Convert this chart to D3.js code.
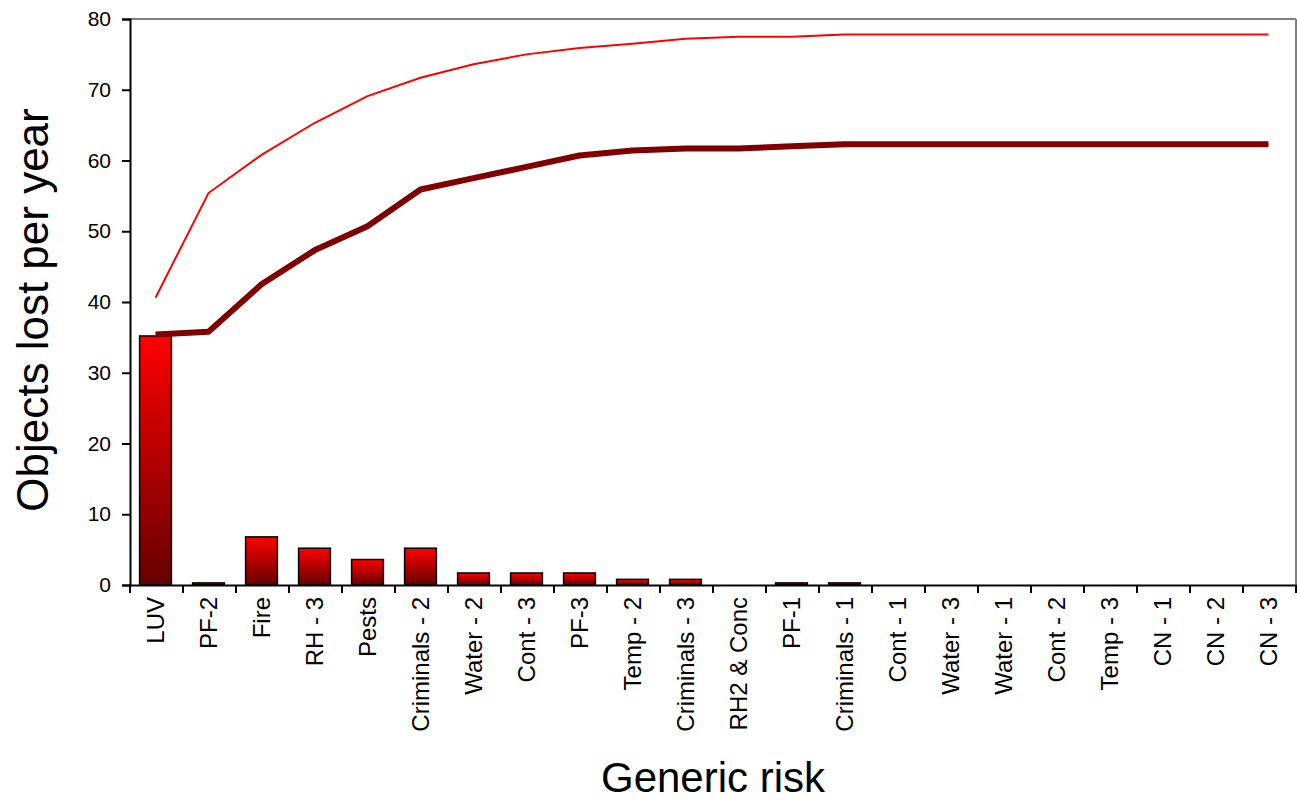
<!DOCTYPE html>
<html>
<head>
<meta charset="utf-8">
<script src="https://cdn.jsdelivr.net/npm/d3@7"></script>
<style>
  html, body { margin: 0; padding: 0; background: #fff; }
  svg { display: block; font-family: Arial, "Liberation Sans", Helvetica, sans-serif; }
</style>
</head>
<body>
<svg id="chart" width="1297" height="800"></svg>
<script>
const categories = ["LUV","PF-2","Fire","RH - 3","Pests","Criminals - 2","Water - 2","Cont - 3","PF-3","Temp - 2","Criminals - 3","RH2 & Conc","PF-1","Criminals - 1","Cont - 1","Water - 3","Water - 1","Cont - 2","Temp - 3","CN - 1","CN - 2","CN - 3"];
const lossPerYear = [35.2,0.3,6.8,5.2,3.6,5.2,1.7,1.7,1.7,0.8,0.8,0,0.3,0.3,0,0,0,0,0,0,0,0];
const cumulativeLower = [35.4,35.8,42.5,47.3,50.7,55.9,57.5,59.1,60.7,61.4,61.7,61.7,62.0,62.3,62.3,62.3,62.3,62.3,62.3,62.3,62.3,62.3];
const cumulativeUpper = [40.6,55.4,60.8,65.3,69.1,71.7,73.6,75.0,75.9,76.5,77.2,77.5,77.5,77.8,77.8,77.8,77.8,77.8,77.8,77.8,77.8,77.8];
const yTicks = [0,10,20,30,40,50,60,70,80];

const svg = d3.select("#chart");
const m = {left: 130, top: 19, right: 1296, bottom: 585};

const x = d3.scaleBand().domain(categories).range([m.left, m.right]).padding(0);
const y = d3.scaleLinear().domain([0, 80]).range([m.bottom, m.top]);

// gradient for bars
const defs = svg.append("defs");
const grad = defs.append("linearGradient").attr("id", "barGrad")
  .attr("x1", 0).attr("y1", 0).attr("x2", 0).attr("y2", 1);
grad.append("stop").attr("offset", "0%").attr("stop-color", "#ff0000");
grad.append("stop").attr("offset", "100%").attr("stop-color", "#660000");

// plot frame (top/right grey)
svg.append("line").attr("x1", m.left).attr("x2", m.right).attr("y1", m.top).attr("y2", m.top)
  .attr("stroke", "#808080").attr("stroke-width", 2);
svg.append("line").attr("x1", m.right).attr("x2", m.right).attr("y1", m.top).attr("y2", m.bottom)
  .attr("stroke", "#808080").attr("stroke-width", 2);

// bars
const bw = x.bandwidth() * 0.6;
svg.append("g").selectAll("rect").data(categories.map((c, i) => ({c, v: lossPerYear[i]})).filter(d => d.v > 0))
  .join("rect")
  .attr("x", d => x(d.c) + x.bandwidth() / 2 - bw / 2 - 1)
  .attr("width", bw)
  .attr("y", d => y(d.v))
  .attr("height", d => y(0) - y(d.v))
  .attr("fill", "url(#barGrad)")
  .attr("stroke", "#000").attr("stroke-width", 1.5);

// lines
const line = d3.line().x((d, i) => x(categories[i]) + x.bandwidth() / 2 - 1).y(d => y(d));
svg.append("path").datum(cumulativeUpper).attr("d", line)
  .attr("fill", "none").attr("stroke", "#ff0000").attr("stroke-width", 2);
svg.append("path").datum(cumulativeLower).attr("d", line)
  .attr("fill", "none").attr("stroke", "#800000").attr("stroke-width", 6).attr("stroke-linejoin", "round");

// y axis
const yAxis = svg.append("g").attr("transform", `translate(${m.left},0)`)
  .call(d3.axisLeft(y).tickValues(yTicks).tickSize(8).tickPadding(11).tickFormat(d3.format("d")));
yAxis.select(".domain").attr("stroke", "#000").attr("stroke-width", 2);
yAxis.selectAll(".tick line").attr("stroke", "#000").attr("stroke-width", 2);
yAxis.selectAll(".tick text").attr("font-size", 21).attr("fill", "#000")
  .attr("font-family", "Arial, 'Liberation Sans', sans-serif");

// x axis
const xAxis = svg.append("g").attr("transform", `translate(0,${m.bottom})`)
  .call(d3.axisBottom(x).tickSize(0).tickPadding(0));
xAxis.select(".domain").attr("stroke", "#000").attr("stroke-width", 2);
xAxis.selectAll(".tick text")
  .attr("font-size", 24).attr("fill", "#000")
  .attr("font-family", "Arial, 'Liberation Sans', sans-serif")
  .attr("text-anchor", "end")
  .attr("transform", "translate(-1,12) rotate(-90)")
  .attr("x", 0).attr("y", 0).attr("dy", "0.35em");
// boundary ticks
const bounds = categories.map(c => x(c)).concat([m.right]);
svg.append("g").selectAll("line").data(bounds).join("line")
  .attr("x1", d => d).attr("x2", d => d).attr("y1", m.bottom).attr("y2", m.bottom + 8)
  .attr("stroke", "#000").attr("stroke-width", 2);

// titles
svg.append("text").attr("x", (m.left + m.right) / 2).attr("y", 792)
  .attr("text-anchor", "middle").attr("font-size", 42).attr("fill", "#000")
  .attr("font-family", "Arial, 'Liberation Sans', sans-serif")
  .text("Generic risk");
svg.append("text").attr("transform", "translate(48,310) rotate(-90)")
  .attr("text-anchor", "middle").attr("font-size", 44).attr("fill", "#000")
  .attr("font-family", "Arial, 'Liberation Sans', sans-serif")
  .text("Objects lost per year");
</script>
</body>
</html>
